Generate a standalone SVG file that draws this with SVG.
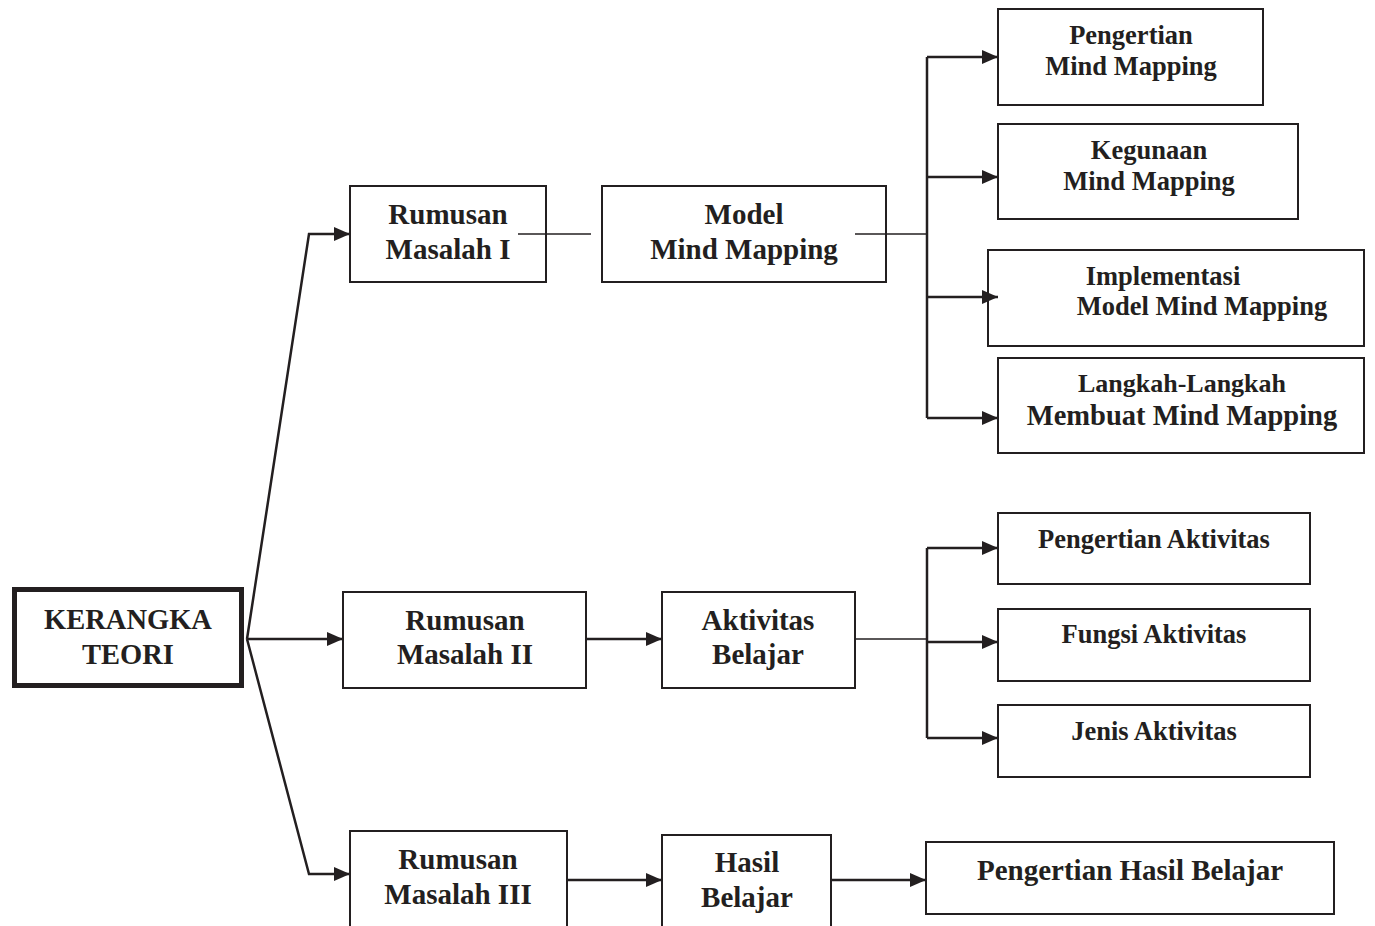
<svg xmlns="http://www.w3.org/2000/svg" width="1375" height="926" viewBox="0 0 1375 926">
<style>
.box{fill:#fff;stroke:#231f20;stroke-width:2}
.kt{fill:#fff;stroke:#231f20;stroke-width:5}
.t{font-family:"Liberation Serif","Times New Roman",serif;font-weight:bold;fill:#231f20;text-anchor:middle}
.l{font-size:29px}
.s{font-size:26.5px}
.c{fill:none;stroke:#231f20;stroke-width:2.5}
.cn{fill:none;stroke:#231f20;stroke-width:1.6}
</style>
<defs>
<marker id="arr" markerWidth="16" markerHeight="14" refX="16" refY="7" orient="auto" markerUnits="userSpaceOnUse">
<path d="M0,0 L16,7 L0,14 Z" fill="#231f20"/>
</marker>
</defs>
<rect width="1375" height="926" fill="#fff"/>

<g id="kerangka-teori">
<rect class="kt" x="14.5" y="589.5" width="227" height="96"/>
<text class="t" x="128" y="629" font-size="28.5">KERANGKA</text>
<text class="t" x="128" y="664" font-size="28.5">TEORI</text>
</g>

<g id="rumusan-1">
<rect class="box" x="350" y="186" width="196" height="96"/>
<text class="t l" x="448" y="224">Rumusan</text>
<text class="t l" x="448" y="259">Masalah I</text>
</g>

<g id="model-mind-mapping">
<rect class="box" x="602" y="186" width="284" height="96"/>
<text class="t l" x="744" y="224">Model</text>
<text class="t l" x="744" y="259">Mind Mapping</text>
</g>

<g id="pengertian-mm">
<rect class="box" x="998" y="9" width="265" height="96"/>
<text class="t s" x="1131" y="44">Pengertian</text>
<text class="t s" x="1131" y="75">Mind Mapping</text>
</g>

<g id="kegunaan-mm">
<rect class="box" x="998" y="124" width="300" height="95"/>
<text class="t s" x="1149" y="159">Kegunaan</text>
<text class="t s" x="1149" y="190">Mind Mapping</text>
</g>

<g id="implementasi-mm">
<rect class="box" x="988" y="250" width="376" height="96"/>
<text class="t s" x="1163" y="285">Implementasi</text>
<text class="t s" x="1202" y="315">Model Mind Mapping</text>
</g>

<g id="langkah-mm">
<rect class="box" x="998" y="358" width="366" height="95"/>
<text class="t" x="1182" y="392" font-size="26">Langkah-Langkah</text>
<text class="t" x="1182" y="425" font-size="28.5">Membuat Mind Mapping</text>
</g>

<g id="rumusan-2">
<rect class="box" x="343" y="592" width="243" height="96"/>
<text class="t l" x="465" y="630">Rumusan</text>
<text class="t l" x="465" y="664">Masalah II</text>
</g>

<g id="aktivitas-belajar">
<rect class="box" x="662" y="592" width="193" height="96"/>
<text class="t l" x="758" y="630">Aktivitas</text>
<text class="t l" x="758" y="664">Belajar</text>
</g>

<g id="pengertian-aktivitas">
<rect class="box" x="998" y="513" width="312" height="71"/>
<text class="t s" x="1154" y="548">Pengertian Aktivitas</text>
</g>

<g id="fungsi-aktivitas">
<rect class="box" x="998" y="609" width="312" height="72"/>
<text class="t s" x="1154" y="643">Fungsi Aktivitas</text>
</g>

<g id="jenis-aktivitas">
<rect class="box" x="998" y="705" width="312" height="72"/>
<text class="t s" x="1154" y="740">Jenis Aktivitas</text>
</g>

<g id="rumusan-3">
<rect class="box" x="350" y="831" width="217" height="110"/>
<text class="t l" x="458" y="869">Rumusan</text>
<text class="t l" x="458" y="904">Masalah III</text>
</g>

<g id="hasil-belajar">
<rect class="box" x="662" y="835" width="169" height="110"/>
<text class="t l" x="747" y="872">Hasil</text>
<text class="t l" x="747" y="907">Belajar</text>
</g>

<g id="pengertian-hasil-belajar">
<rect class="box" x="926" y="842" width="408" height="72"/>
<text class="t l" x="1130" y="880">Pengertian Hasil Belajar</text>
</g>

<g id="connectors">
<path class="c" d="M247,639 L309,234 L350,234" marker-end="url(#arr)"/>
<path class="c" d="M247,639 L343,639" marker-end="url(#arr)"/>
<path class="c" d="M247,639 L309,874 L350,874" marker-end="url(#arr)"/>
<path class="cn" d="M518,234 L591,234"/>
<path class="cn" d="M855,234 L927,234"/>
<path class="c" d="M927,57 L927,418"/>
<path class="c" d="M927,57 L998,57" marker-end="url(#arr)"/>
<path class="c" d="M927,177 L998,177" marker-end="url(#arr)"/>
<path class="c" d="M927,297 L998,297" marker-end="url(#arr)"/>
<path class="c" d="M927,418 L998,418" marker-end="url(#arr)"/>
<path class="c" d="M586,639 L662,639" marker-end="url(#arr)"/>
<path class="cn" d="M855,639 L927,639"/>
<path class="c" d="M927,548 L927,738"/>
<path class="c" d="M927,548 L998,548" marker-end="url(#arr)"/>
<path class="c" d="M927,642 L998,642" marker-end="url(#arr)"/>
<path class="c" d="M927,738 L998,738" marker-end="url(#arr)"/>
<path class="c" d="M567,880 L662,880" marker-end="url(#arr)"/>
<path class="c" d="M831,880 L926,880" marker-end="url(#arr)"/>
</g>
</svg>
